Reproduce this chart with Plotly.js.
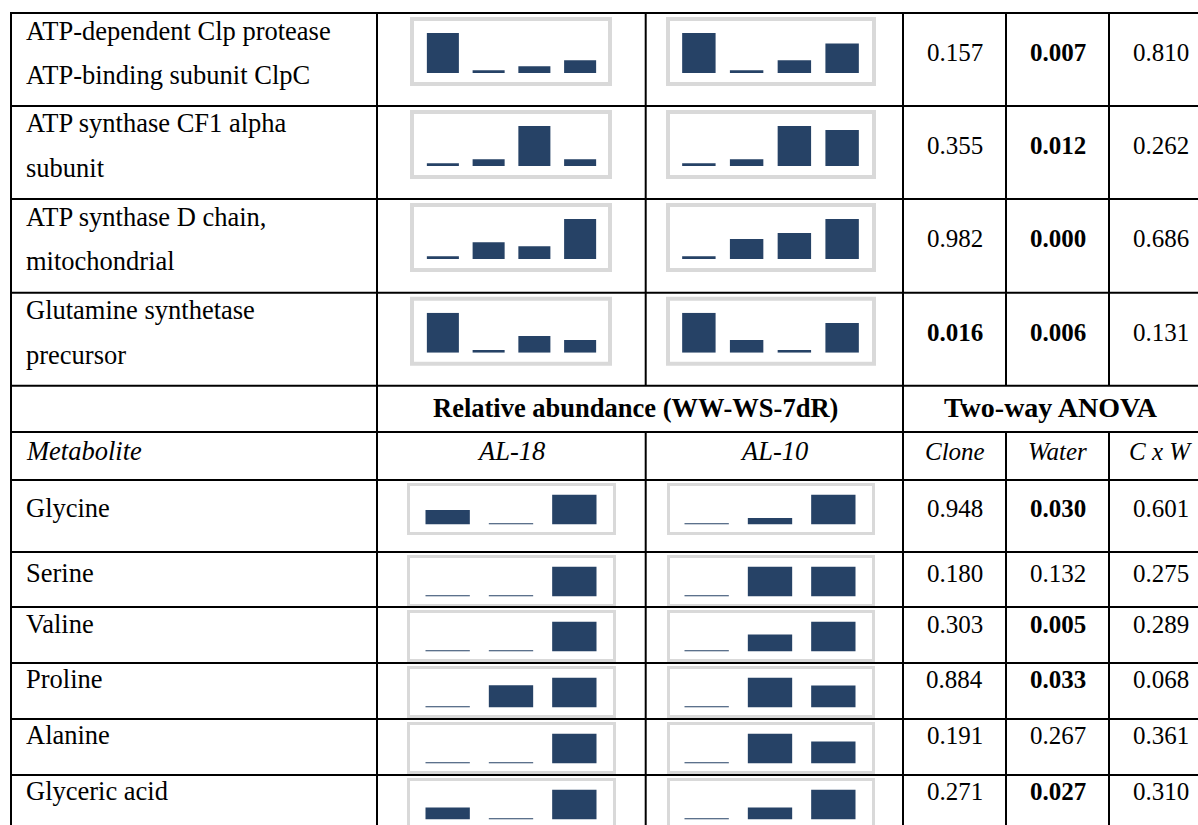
<!DOCTYPE html>
<html>
<head>
<meta charset="utf-8">
<script src="https://cdn.plot.ly/plotly-3.0.1.min.js"></script>
<style>
  html, body { margin: 0; padding: 0; background: #ffffff; }
  #chart { width: 1198px; height: 825px; }
</style>
</head>
<body>
<div id="chart"></div>
<script>
// ---- Proteins: relative abundance over the four sampling points, per clone ----
const proteinNames = [
  ["ATP-dependent Clp protease", "ATP-binding subunit ClpC"],
  ["ATP synthase CF1 alpha", "subunit"],
  ["ATP synthase D chain,", "mitochondrial"],
  ["Glutamine synthetase", "precursor"]
];
const proteinAL18 = [
  [1.00, 0.07, 0.17, 0.32],
  [0.07, 0.17, 1.00, 0.17],
  [0.07, 0.42, 0.32, 1.00],
  [1.00, 0.07, 0.42, 0.32]
];
const proteinAL10 = [
  [1.00, 0.07, 0.32, 0.74],
  [0.07, 0.17, 1.00, 0.90],
  [0.07, 0.50, 0.65, 1.00],
  [1.00, 0.32, 0.07, 0.74]
];
const proteinClone = [0.157, 0.355, 0.982, 0.016];
const proteinWater = [0.007, 0.012, 0.000, 0.006];
const proteinCxW   = [0.810, 0.262, 0.686, 0.131];

// ---- Metabolites: relative abundance at WW, WS and 7dR, per clone ----
const metabolites = ["Glycine", "Serine", "Valine", "Proline", "Alanine", "Glyceric acid"];
const metabAL18 = [
  [0.48, 0.04, 1.00],
  [0.04, 0.04, 1.00],
  [0.04, 0.04, 1.00],
  [0.04, 0.74, 1.00],
  [0.04, 0.04, 1.00],
  [0.40, 0.04, 1.00]
];
const metabAL10 = [
  [0.04, 0.22, 1.00],
  [0.04, 1.00, 1.00],
  [0.04, 0.57, 1.00],
  [0.04, 1.00, 0.73],
  [0.04, 1.00, 0.73],
  [0.04, 0.40, 1.00]
];
const metabClone = [0.948, 0.180, 0.303, 0.884, 0.191, 0.271];
const metabWater = [0.030, 0.132, 0.005, 0.033, 0.267, 0.027];
const metabCxW   = [0.601, 0.275, 0.289, 0.068, 0.361, 0.310];

// ---- Header texts ----
const groupTitle = "Relative abundance (WW-WS-7dR)";
const anovaTitle = "Two-way ANOVA";
const firstColHead = "Metabolite";
const cloneHeads = ["AL-18", "AL-10"];
const anovaHeads = ["Clone", "Water", "C x W"];
const ALPHA = 0.05;   // p-values below this are set in bold

// ---- Page geometry (pixels) ----
const W = 1198, H = 825;
const fx = p => p / W;
const fy = p => 1 - p / H;

const COL = { left: 11, name: 377, mid: 645.7, anova: 903, c2: 1006, c3: 1109, right: 1212 };
const NAME_X = 24;
const CLONE_CX = [(COL.name + COL.mid) / 2, (COL.mid + COL.anova) / 2];
const ANOVA_CX = [(COL.anova + COL.c2) / 2, (COL.c2 + COL.c3) / 2, (COL.c3 + COL.right) / 2];
const GROUP_CX = 635;
const ANOVA_TITLE_CX = 1051;

const proteinTops = [13, 106, 199, 292.7];
const header1Top = 385.7, header2Top = 432;
const metabTops = [480, 552, 607, 663, 719, 775];
const BOTTOM = 830;
const metabTextY = [508, 573, 624, 679, 735, 791];

const DARK = '#264266';
const BOXC = '#d9d9d9';
const FONT = '"Liberation Serif", "Times New Roman", serif';
const FS_NUM = 25, FS_NAME = 26.5, FS_HEAD = 26.5, FS_ANOVA = 28;

const data = [];
const layout = {
  width: W, height: H,
  margin: { l: 0, r: 0, t: 0, b: 0 },
  paper_bgcolor: '#ffffff',
  plot_bgcolor: 'rgba(0,0,0,0)',
  showlegend: false,
  bargap: 0.3,
  font: { family: FONT, size: FS_NUM, color: '#000000' },
  shapes: [],
  annotations: []
};

let axisCount = 0;
function addSpark(values, xDom, yTop, yBase) {
  axisCount++;
  const s = axisCount === 1 ? '' : String(axisCount);
  data.push({
    type: 'bar',
    x: values.map((_, i) => i),
    y: values,
    xaxis: 'x' + s, yaxis: 'y' + s,
    marker: { color: DARK, line: { width: 0 } },
    hoverinfo: 'skip'
  });
  layout['xaxis' + s] = { domain: [fx(xDom[0]), fx(xDom[1])], range: [-0.5, values.length - 0.5],
                          visible: false, fixedrange: true, anchor: 'y' + s };
  layout['yaxis' + s] = { domain: [fy(yBase), fy(yTop)], range: [0, 1],
                          visible: false, fixedrange: true, anchor: 'x' + s };
}

function addBox(x0, x1, y0, y1, w) {
  layout.shapes.push({
    type: 'rect', xref: 'paper', yref: 'paper', layer: 'below',
    x0: fx(x0 + w / 2), x1: fx(x1 - w / 2), y0: fy(y1 - w / 2), y1: fy(y0 + w / 2),
    line: { color: BOXC, width: w }, fillcolor: 'rgba(0,0,0,0)'
  });
}

function rule(x0, y0, x1, y1) {
  layout.shapes.push({
    type: 'line', xref: 'paper', yref: 'paper', layer: 'above',
    x0: fx(x0), y0: fy(y0), x1: fx(x1), y1: fy(y1),
    line: { color: '#000000', width: 2 }
  });
}

function addText(text, x, y, xanchor, size) {
  layout.annotations.push({
    text: text, xref: 'paper', yref: 'paper', x: fx(x), y: fy(y),
    xanchor: xanchor, yanchor: 'middle', showarrow: false,
    font: { family: FONT, size: size, color: '#000000' }
  });
}

function pText(v) {
  const s = v.toFixed(3);
  return v < ALPHA ? '<b>' + s + '</b>' : s;
}

// ---- Protein rows ----
proteinNames.forEach((lines, i) => {
  const top = proteinTops[i];
  addText(lines[0], NAME_X, top + 17.5, 'left', FS_NAME);
  addText(lines[1], NAME_X, top + 62, 'left', FS_NAME);
  addBox(410, 612, top + 4, top + 73, 4);
  addBox(666, 876, top + 4, top + 73, 4);
  addSpark(proteinAL18[i], [420, 603], top + 20, top + 60);
  addSpark(proteinAL10[i], [675, 866], top + 20, top + 60);
  [proteinClone[i], proteinWater[i], proteinCxW[i]].forEach((v, k) => {
    addText(pText(v), ANOVA_CX[k], top + 39.5, 'center', FS_NUM);
  });
});

// ---- Header rows ----
addText('<b>' + groupTitle + '</b>', GROUP_CX, header1Top + 22, 'center', FS_HEAD);
addText('<b>' + anovaTitle + '</b>', ANOVA_TITLE_CX, header1Top + 22, 'center', FS_ANOVA);
addText('<i>' + firstColHead + '</i>', NAME_X, header2Top + 19, 'left', FS_NAME);
cloneHeads.forEach((t, k) => addText('<i>' + t + '</i>', CLONE_CX[k], header2Top + 19, 'center', FS_NAME));
anovaHeads.forEach((t, k) => addText('<i>' + t + '</i>', ANOVA_CX[k], header2Top + 19, 'center', FS_NUM));

// ---- Metabolite rows ----
metabolites.forEach((name, i) => {
  const top = metabTops[i];
  const ty = metabTextY[i];
  addText(name, NAME_X, ty, 'left', FS_NAME);
  addBox(407, 616, top + 3, top + 55, 3);
  addBox(667, 875, top + 3, top + 55, 3);
  addSpark(metabAL18[i], [416, 606], top + 14.5, top + 44.5);
  addSpark(metabAL10[i], [675, 865], top + 14.5, top + 44.5);
  [metabClone[i], metabWater[i], metabCxW[i]].forEach((v, k) => {
    addText(pText(v), ANOVA_CX[k], ty, 'center', FS_NUM);
  });
});

// ---- Table rules ----
const hRows = proteinTops.concat([header1Top, header2Top], metabTops);
hRows.forEach(y => rule(COL.left - 1, y, COL.right, y));
rule(COL.left, proteinTops[0], COL.left, BOTTOM);
rule(COL.name, proteinTops[0], COL.name, BOTTOM);
rule(COL.anova, proteinTops[0], COL.anova, BOTTOM);
[COL.mid, COL.c2, COL.c3].forEach(x => {
  rule(x, proteinTops[0], x, header1Top);
  rule(x, header2Top, x, BOTTOM);
});

Plotly.newPlot('chart', data, layout, { displayModeBar: false, staticPlot: true });
</script>
</body>
</html>
